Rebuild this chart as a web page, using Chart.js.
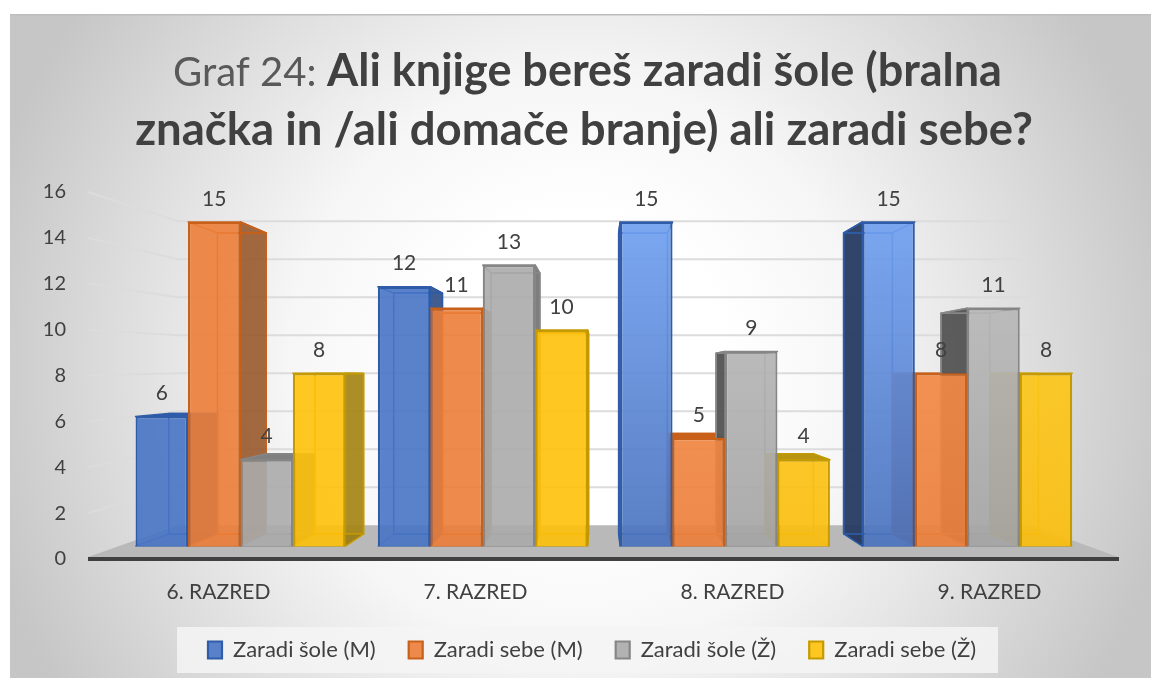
<!DOCTYPE html>
<html><head><meta charset="utf-8">
<style>html,body{margin:0;padding:0;background:#fff}#w{width:1151px;height:678px}</style>
<script src="https://cdn.jsdelivr.net/npm/chart.js@4"></script>
</head><body><div id="w"><canvas id="c" width="1151" height="678"></canvas></div>
<script>
const categories = ['6. RAZRED','7. RAZRED','8. RAZRED','9. RAZRED'];
const seriesNames = ['Zaradi šole (M)','Zaradi sebe (M)','Zaradi šole (Ž)','Zaradi sebe (Ž)'];
const zaradiSoleM = [6,12,15,15];
const zaradiSebeM = [15,11,5,8];
const zaradiSoleZ = [4,13,9,11];
const zaradiSebeZ = [8,10,4,8];
const yTicks = [0,2,4,6,8,10,12,14,16];
const titleRegular = 'Graf 24: ';
const titleBold1 = 'Ali knjige bereš zaradi šole (bralna';
const titleBold2 = 'značka in /ali domače branje) ali zaradi sebe?';

const FONT='Lato';
const pal=[
 {f:'rgba(72,116,197,.9)',l1:'rgba(112,160,240,.92)',l2:'rgba(75,115,190,.92)',b:'#2f5ca8',r:'rgba(50,80,135,.92)',lf:'rgba(38,58,98,.95)',t:'#2f5ca8',leg:'#5b84cb'},
 {f:'rgba(236,126,56,.9)',l1:'rgba(247,145,75,.92)',l2:'rgba(236,128,60,.92)',b:'#c8601a',r:'rgba(150,85,40,.88)',lf:'rgba(150,70,25,.9)',t:'#c8601a',leg:'#ee8b4c'},
 {f:'rgba(171,171,171,.9)',l1:'rgba(190,190,190,.92)',l2:'rgba(165,165,165,.92)',b:'#868686',r:'rgba(115,115,115,.92)',lf:'rgba(85,85,85,.96)',t:'#808080',leg:'#b0b0b0'},
 {f:'rgba(255,193,10,.9)',l1:'rgba(255,205,35,.92)',l2:'rgba(250,190,15,.92)',b:'#c49a00',r:'rgba(165,132,20,.92)',lf:'rgba(170,140,30,.85)',t:'#b8950f',leg:'#ffc722'}
];
const K=.9285, VX=600, VY=376;
const bx=x=>VX+K*(x-VX), by=y=>VY+K*(y-VY);
function poly(ctx,pts,fill,stroke,lw){ctx.beginPath();pts.forEach((p,i)=>i?ctx.lineTo(p[0],p[1]):ctx.moveTo(p[0],p[1]));ctx.closePath();
 if(fill){ctx.fillStyle=fill;ctx.fill()} if(stroke){ctx.strokeStyle=stroke;ctx.lineWidth=lw||2;ctx.lineJoin='round';ctx.stroke()}}

const deco={id:'deco',
 afterLayout(ch){ch.legend.left+=13;ch.legend.right+=13;},
 beforeDraw(ch){const c=ch.ctx;const W=1151,H=678;
  c.save();c.fillStyle='#fff';c.fillRect(0,0,W,H);
  c.beginPath();c.rect(10,14,1141,664);c.clip();
  c.translate(575,365);
  const g=c.createRadialGradient(0,0,150,0,0,610);
  g.addColorStop(0,'#ffffff');g.addColorStop(.3,'#f6f6f6');g.addColorStop(.6,'#e2e2e2');g.addColorStop(1,'#c6c6c6');
  c.fillStyle=g;c.fillRect(-700,-700,1400,1400);c.restore();
  c.save();c.fillStyle='#bdbdbd';c.fillRect(10,14,1141,1.5);
  c.fillStyle='rgba(244,244,244,.85)';c.fillRect(177,627,821,46);c.restore();
 },
 beforeDatasetsDraw(ch){const c=ch.ctx,y=ch.scales.y,w=ch.scales.yWall;c.save();
  const fy=w.getPixelForValue(0), by0=y.getPixelForValue(0);
  poly(c,[[88,by0-2],[178,fy],[1031,fy],[1118,by0-2]],'#b9b9b9');
  yTicks.forEach(v=>{if(v===0)return;const a=y.getPixelForValue(v),b=w.getPixelForValue(v);
   c.beginPath();c.moveTo(88,a);c.lineTo(178,b);c.lineTo(1031,b);c.strokeStyle='#dcdcdc';c.lineWidth=2;c.stroke();});
  ch.data.datasets.forEach((ds,s)=>{const m=ch.getDatasetMeta(s),p=pal[s];
   m.data.forEach(el=>{const l=el.x-el.width/2,r=el.x+el.width/2,t=el.y,b=el.base;
    const Bl=bx(l),Br=bx(r),Bt=by(t),Bb=by(b);
    c.lineWidth=1.5;
    if(Br>r+.5) poly(c,[[r,t],[Br,Bt],[Br,Bb],[r,b]],p.r,p.b,1.5);
    if(Bl<l-.5) poly(c,[[l,t],[Bl,Bt],[Bl,Bb],[l,b]],p.lf,p.b,1.5);
    poly(c,[[Bl,Bt],[Br,Bt],[Br,Bb],[Bl,Bb]],null,p.b,1.5);
    poly(c,[[l,b],[r,b],[Br,Bb],[Bl,Bb]],'rgba(0,0,0,.06)',p.b,1);
    if(Bt<t) poly(c,[[l,t],[r,t],[Br,Bt],[Bl,Bt]],p.t,p.b,1.5);
    else poly(c,[[l,t],[r,t],[Br,Bt],[Bl,Bt]],null,p.b,1.5);
   });});
  c.restore();
 },
 afterDatasetsDraw(ch){const c=ch.ctx;c.save();c.font='21px '+FONT;c.fillStyle='#404040';c.textAlign='center';c.textBaseline='middle';
  ch.data.datasets.forEach((ds,s)=>{ch.getDatasetMeta(s).data.forEach((el,i)=>{c.fillText(String(ds.data[i].y),el.x,el.y-23)})});c.restore();},
 afterDraw(ch){const c=ch.ctx;c.save();c.textBaseline='alphabetic';c.textAlign='left';
  c.font='400 40px '+FONT;c.fillStyle='#595959';c.fillText(titleRegular,173,86);
  c.font='700 45px '+FONT;c.fillStyle='#404040';c.fillText(titleBold1,327,86);
  c.font='700 45.5px '+FONT;const w2=c.measureText(titleBold2).width;
  c.fillText(titleBold2,584-w2/2,145);c.restore();}
};

function fillFor(s){return ctx=>{const i=ctx.dataIndex;if(i===undefined)return pal[s].leg;
  if(i<2)return pal[s].f;
  const g=ctx.chart.ctx.createLinearGradient(0,222,0,548);g.addColorStop(0,pal[s].l1);g.addColorStop(1,pal[s].l2);return g;}}
const allSeries=[zaradiSoleM,zaradiSebeM,zaradiSoleZ,zaradiSebeZ];
new Chart(document.getElementById('c'),{type:'bar',
 data:{labels:categories,datasets:allSeries.map((vals,s)=>({label:seriesNames[s],
   data:vals.map((v,i)=>({x:i,y:v})),xAxisID:'xBar',yAxisID:'yBar',
   backgroundColor:fillFor(s),borderColor:pal[s].b,borderWidth:2.2,barPercentage:1,categoryPercentage:.866}))},
 options:{responsive:false,animation:false,
  layout:{padding:{left:40,right:33,top:192,bottom:7}},
  plugins:{title:{display:false},tooltip:{enabled:false},
   legend:{position:'bottom',labels:{font:{family:FONT,size:22},color:'#404040',boxWidth:14,boxHeight:17,padding:33}}},
  scales:{
   x:{type:'category',labels:categories,position:'bottom',offset:true,grid:{display:false},
      border:{display:true,color:'#404040',width:4},
      ticks:{color:'#404040',font:{family:FONT,size:21},padding:13},
      afterFit(s){s.height=47}},
   y:{type:'linear',position:'left',min:0,max:16,afterBuildTicks(s){s.ticks=yTicks.map(v=>({value:v}))},
      grid:{display:false},border:{display:false},
      ticks:{color:'#404040',font:{family:FONT,size:20},padding:16},
      afterFit(s){s.width=50}},
   xBar:{type:'linear',display:false,offset:false,min:-.621,max:3.622,grid:{display:false},
      afterBuildTicks(s){s.ticks=categories.map((_,i)=>({value:i}))}},
   yBar:{type:'linear',display:false,min:-.598,max:16.383,grid:{display:false}},
   yWall:{type:'linear',display:false,min:-1.78,max:17.54,grid:{display:false}}
  }},
 plugins:[deco]});
</script></body></html>
